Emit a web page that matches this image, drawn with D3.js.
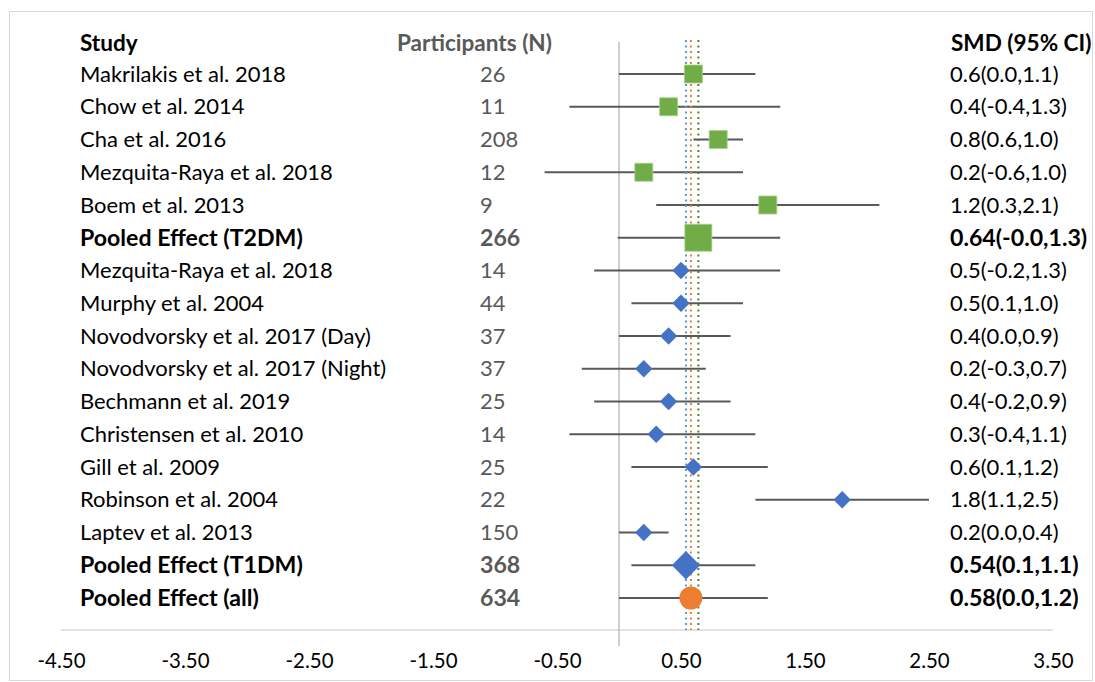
<!DOCTYPE html>
<html>
<head>
<meta charset="utf-8">
<script src="https://cdn.jsdelivr.net/npm/d3@7"></script>
<style>
  html, body { margin: 0; padding: 0; background: #fff; }
  svg text { font-family: Lato, "Open Sans", sans-serif; }
</style>
</head>
<body>
<svg id="chart" width="1095" height="682"></svg>
<script>
// Forest plot: standardised mean difference per study, with pooled effects
const studies = [
  "Makrilakis et al. 2018", "Chow et al. 2014", "Cha et al. 2016",
  "Mezquita-Raya et al. 2018", "Boem et al. 2013", "Pooled Effect (T2DM)",
  "Mezquita-Raya et al. 2018", "Murphy et al. 2004", "Novodvorsky et al. 2017 (Day)",
  "Novodvorsky et al. 2017 (Night)", "Bechmann et al. 2019", "Christensen et al. 2010",
  "Gill et al. 2009", "Robinson et al. 2004", "Laptev et al. 2013",
  "Pooled Effect (T1DM)", "Pooled Effect (all)"
];
const participants = [26, 11, 208, 12, 9, 266, 14, 44, 37, 37, 25, 14, 25, 22, 150, 368, 634];
const smd    = [0.6, 0.4, 0.8, 0.2, 1.2, 0.64, 0.5, 0.5, 0.4, 0.2, 0.4, 0.3, 0.6, 1.8, 0.2, 0.54, 0.58];
const ciLow  = [0.0, -0.4, 0.6, -0.6, 0.3, -0.01, -0.2, 0.1, 0.0, -0.3, -0.2, -0.4, 0.1, 1.1, 0.0, 0.1, 0.0];
const ciHigh = [1.1, 1.3, 1.0, 1.0, 2.1, 1.3, 1.3, 1.0, 0.9, 0.7, 0.9, 1.1, 1.2, 2.5, 0.4, 1.1, 1.2];
// row kind: t2 / t1 individual studies, and the three pooled rows
const kinds = ["t2","t2","t2","t2","t2","poolT2","t1","t1","t1","t1","t1","t1","t1","t1","t1","poolT1","poolAll"];
const xTicks = [-4.5, -3.5, -2.5, -1.5, -0.5, 0.5, 1.5, 2.5, 3.5];
const pooledLines = [
  { value: 0.54, color: "#5B9BD5" },
  { value: 0.58, color: "#ED7D31" },
  { value: 0.64, color: "#548235" }
];

const svg = d3.select("#chart");
const W = 1095, H = 682;

// pick a font size so that a sample string renders at the wanted width
function fitSize(sample, width, weight) {
  const t = svg.append("text").style("font-size", "20px").style("font-weight", weight).text(sample);
  const w = t.node().getComputedTextLength();
  t.remove();
  return 20 * width / w;
}
const fsBody = fitSize("Makrilakis et al. 2018", 206, "normal");
const fsBold = fitSize("Pooled Effect (T2DM)", 223, "bold");
const fsHead = fitSize("Participants (N)", 155, "bold");
const fsTick = fitSize("-4.50", 48, "normal");

// chart frame
svg.append("rect")
  .attr("x", 9.5).attr("y", 11.5).attr("width", W - 12).attr("height", H - 13)
  .attr("fill", "none").attr("stroke", "#d9d9d9").attr("stroke-width", 1);

const x = d3.scaleLinear().domain([-4.5, 3.5]).range([61, 1053]);
const rows = d3.range(studies.length);
const y = d3.scalePoint().domain(rows).range([74, 598]);
const axisY = 630;

// horizontal axis line
svg.append("line")
  .attr("x1", x(-4.5)).attr("x2", x(3.5))
  .attr("y1", axisY).attr("y2", axisY)
  .attr("stroke", "#d9d9d9").attr("stroke-width", 1.5);

// tick labels
const axis = d3.axisBottom(x).tickValues(xTicks).tickSize(0).tickPadding(0);
const axisG = svg.append("g").attr("transform", `translate(0,${axisY})`).call(axis);
axisG.select(".domain").remove();
axisG.selectAll("text")
  .attr("y", 31).attr("dy", "0.35em")
  .attr("fill", "#000")
  .style("font-size", fsTick + "px")
  .style("font-family", "Lato, 'Open Sans', sans-serif")
  .text(d => d.toFixed(2));

// line of no effect
svg.append("line")
  .attr("x1", x(0)).attr("x2", x(0))
  .attr("y1", 42).attr("y2", 646)
  .attr("stroke", "#bfbfbf").attr("stroke-width", 1.5);

// confidence intervals
svg.append("g").selectAll("line").data(rows).join("line")
  .attr("x1", i => x(ciLow[i])).attr("x2", i => x(ciHigh[i]))
  .attr("y1", i => y(i)).attr("y2", i => y(i))
  .attr("stroke", "#595959").attr("stroke-width", 2);

// pooled-effect reference lines
svg.append("g").selectAll("line").data(pooledLines).join("line")
  .attr("x1", d => x(d.value)).attr("x2", d => x(d.value))
  .attr("y1", 40).attr("y2", axisY)
  .attr("stroke", d => d.color).attr("stroke-width", 2)
  .attr("stroke-dasharray", "2,3.5");

// point estimates
const markerStyle = {
  t2:      { type: d3.symbolSquare, size: 324, rotate: 0,  fill: "#70AD47" },
  poolT2:  { type: d3.symbolSquare, size: 729, rotate: 0,  fill: "#70AD47" },
  t1:      { type: d3.symbolSquare, size: 150, rotate: 45, fill: "#4472C4" },
  poolT1:  { type: d3.symbolSquare, size: 400, rotate: 45, fill: "#4472C4" },
  poolAll: { type: d3.symbolCircle, size: 415, rotate: 0,  fill: "#ED7D31" }
};
svg.append("g").selectAll("path").data(rows).join("path")
  .attr("d", i => d3.symbol(markerStyle[kinds[i]].type, markerStyle[kinds[i]].size)())
  .attr("transform", i => `translate(${x(smd[i])},${y(i)}) rotate(${markerStyle[kinds[i]].rotate})`)
  .attr("fill", i => markerStyle[kinds[i]].fill)
  .attr("stroke", i => (kinds[i] === "t2" || kinds[i] === "poolT2") ? "#a9d18e" : "none")
  .attr("stroke-width", 0.8);

// text columns
const isPooled = i => kinds[i].startsWith("pool");
const fmtLabel = i => {
  const dec = isPooled(i) ? 2 : 1;
  return smd[i].toFixed(dec) + "(" + ciLow[i].toFixed(1) + "," + ciHigh[i].toFixed(1) + ")";
};

const header = svg.append("g").style("font-size", fsHead + "px").style("font-weight", "bold");
header.append("text").attr("x", 80).attr("y", 43).attr("dy", "0.35em").attr("fill", "#000").text("Study");
header.append("text").attr("x", 397).attr("y", 43).attr("dy", "0.35em").attr("fill", "#595959").text("Participants (N)");
header.append("text").attr("x", 951).attr("y", 43).attr("dy", "0.35em").attr("fill", "#000").text("SMD (95% CI)");

const body = svg.append("g");
const rowText = (cls, xPos, color, fn) =>
  body.selectAll("text." + cls).data(rows).join("text").attr("class", cls)
    .attr("x", xPos).attr("y", i => y(i)).attr("dy", "0.35em")
    .attr("fill", color)
    .style("font-weight", i => isPooled(i) ? "bold" : "normal")
    .style("font-size", i => (isPooled(i) ? fsBold : fsBody) + "px")
    .text(fn);
rowText("study", 80, "#000", i => studies[i]);
rowText("n", 480, "#595959", i => participants[i]);
rowText("smd", 950, "#000", i => fmtLabel(i));
</script>
</body>
</html>
